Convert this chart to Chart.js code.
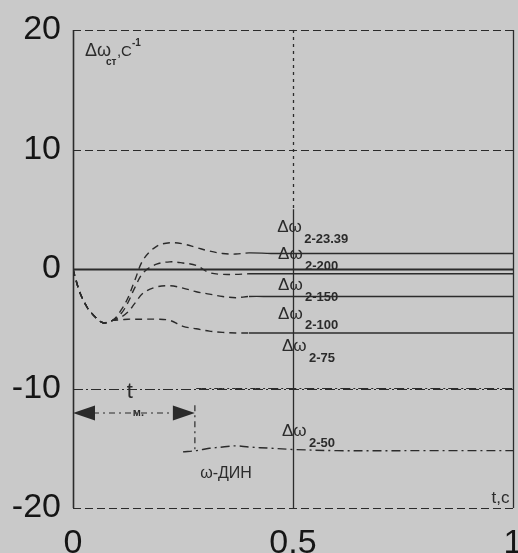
<!DOCTYPE html>
<html>
<head>
<meta charset="utf-8">
<script src="https://cdn.jsdelivr.net/npm/chart.js@4"></script>
<style>
  html, body { margin: 0; padding: 0; background: #c9c9c9; }
  #wrap { width: 518px; height: 553px; position: relative; }
</style>
</head>
<body>
<div id="wrap"><canvas id="myChart" width="518" height="553"></canvas></div>
<script>
// time, s
let times = [0, 0.005, 0.016, 0.032, 0.045, 0.068, 0.09, 0.11, 0.125, 0.14, 0.16, 0.19,
             0.22, 0.25, 0.28, 0.31, 0.34, 0.37, 0.40, 0.45, 0.5, 0.6, 0.8, 1.0];

// delta omega, 1/s
let w2_2339 = [0, -0.7, -2.0, -3.2, -3.8, -4.5, -4.3, -3.4, -2.4, -1.0, 0.8, 1.9,
               2.2, 2.1, 1.8, 1.5, 1.3, 1.25, 1.35, 1.3, 1.3, 1.3, 1.3, 1.3];
let w2_200 = [0, -0.7, -2.0, -3.2, -3.8, -4.5, -4.3, -3.7, -2.8, -1.6, -0.3, 0.4,
              0.6, 0.5, 0.3, -0.3, -0.45, -0.45, -0.4, -0.4, -0.4, -0.4, -0.4, -0.4];
let w2_150 = [0, -0.7, -2.0, -3.2, -3.8, -4.5, -4.3, -4.0, -3.6, -2.9, -2.0, -1.5,
              -1.4, -1.6, -1.9, -2.1, -2.3, -2.4, -2.3, -2.3, -2.3, -2.3, -2.3, -2.3];
let w2_100 = [0, -0.7, -2.0, -3.2, -3.8, -4.5, -4.3, -4.25, -4.2, -4.2, -4.2, -4.2,
              -4.3, -4.8, -5.0, -5.2, -5.3, -5.35, -5.35, -5.35, -5.35, -5.35, -5.35, -5.35];
let w2_75 = [null, null, null, null, null, null, null, null, null, null, null, null,
             null, null, -10, -10, -10, -10, -10, -10, -10, -10, -10, -10];
let w2_50 = [null, null, null, null, null, null, null, null, null, null, null, null,
             null, -15.3, -15.2, -15.0, -14.9, -14.8, -14.9, -15.0, -15.1, -15.2, -15.2, -15.2];

let seriesNames = ['2-23.39', '2-200', '2-150', '2-100', '2-75', '2-50'];
let seriesValues = [w2_2339, w2_200, w2_150, w2_100, w2_75, w2_50];

let xTicks = [0, 0.5, 1];
let yTicks = [-20, -10, 0, 10, 20];

// label anchors (t, value) for the curve names
let labelT = [0.464, 0.466, 0.466, 0.466, 0.475, 0.475];
let labelV = [3.5, 1.25, -1.4, -3.75, -6.45, -13.6];

// t_m marker
let tm = 0.277;

const FONT = '"Liberation Sans", Arial, sans-serif';
const INK = '#2b2b2b';

let datasets = seriesValues.map((vals, k) => ({
    label: seriesNames[k],
    data: times.map((t, i) => ({ x: t, y: vals[i] })),
    borderColor: INK,
    borderWidth: k == 4 ? 1 : 1.4,
    pointRadius: 0,
    tension: 0.35,
    spanGaps: false,
    borderDash: k == 5 ? [9, 4, 2, 4] : (k == 4 ? [10, 3, 2, 3] : []),
    segment: {
        borderDash: ctx => {
            if (k >= 4) return undefined;
            return ctx.p0.parsed.x < 0.4 ? [7, 5] : undefined;
        }
    }
}));

/* grid, borders and all the annotation text */
const paperPlugin = {
    id: 'paper',
    beforeDatasetsDraw(chart) {
        const { ctx, chartArea: a, scales: { x, y } } = chart;
        ctx.save();
        ctx.strokeStyle = INK;
        // horizontal lines
        yTicks.forEach(v => {
            const py = Math.round(y.getPixelForValue(v)) + 0.5;
            ctx.beginPath();
            ctx.lineWidth = v == 0 ? 2.2 : 1.2;
            ctx.setLineDash(v == 0 ? [] : (v == -10 ? [10, 3, 2, 3] : [8, 4]));
            ctx.moveTo(a.left, py);
            ctx.lineTo(a.right, py);
            ctx.stroke();
        });
        // vertical lines
        xTicks.forEach(t => {
            const px = Math.round(x.getPixelForValue(t)) + 0.5;
            ctx.lineWidth = t == 0 ? 1.6 : 1.3;
            if (t == 0.5) {
                const mid = y.getPixelForValue(5);
                ctx.setLineDash([3, 4]);
                ctx.beginPath(); ctx.moveTo(px, a.top); ctx.lineTo(px, mid); ctx.stroke();
                ctx.setLineDash([]);
                ctx.beginPath(); ctx.moveTo(px, mid); ctx.lineTo(px, a.bottom); ctx.stroke();
            } else {
                ctx.setLineDash([]);
                ctx.beginPath(); ctx.moveTo(px, a.top); ctx.lineTo(px, a.bottom); ctx.stroke();
            }
        });
        ctx.restore();
    },
    afterDatasetsDraw(chart) {
        const { ctx, scales: { x, y } } = chart;
        ctx.save();
        ctx.fillStyle = INK;
        ctx.strokeStyle = INK;
        ctx.textBaseline = 'middle';
        ctx.textAlign = 'left';

        // y title  Δω_ст, с^-1
        let px = x.getPixelForValue(0.027), py = y.getPixelForValue(18.2);
        ctx.font = '18px ' + FONT;
        ctx.fillText('Δω', px, py);
        ctx.font = 'bold 10px ' + FONT;
        ctx.fillText('ст', px + 21, py + 11);
        ctx.font = '15px ' + FONT;
        ctx.fillText(',С', px + 32, py);
        ctx.font = 'bold 10px ' + FONT;
        ctx.fillText('-1', px + 47, py - 8);

        // curve names
        seriesNames.forEach((name, k) => {
            const lx = x.getPixelForValue(labelT[k]);
            const ly = y.getPixelForValue(labelV[k]);
            ctx.font = '17px ' + FONT;
            ctx.fillText('Δω', lx, ly);
            ctx.font = 'bold 13px ' + FONT;
            ctx.fillText(name, lx + 27, ly + 12);
        });

        // t_m arrow
        const ay = y.getPixelForValue(-12.05);
        const x0 = x.getPixelForValue(0), x1 = x.getPixelForValue(tm);
        ctx.lineWidth = 1.2;
        ctx.setLineDash([6, 4, 2, 4]);
        ctx.beginPath(); ctx.moveTo(x0 + 20, ay); ctx.lineTo(x1 - 20, ay); ctx.stroke();
        ctx.beginPath();
        ctx.moveTo(x1, y.getPixelForValue(-11.4));
        ctx.lineTo(x1, y.getPixelForValue(-15.4));
        ctx.stroke();
        ctx.setLineDash([]);
        ctx.beginPath();
        ctx.moveTo(x0, ay); ctx.lineTo(x0 + 22, ay - 7.5); ctx.lineTo(x0 + 22, ay + 7.5); ctx.closePath();
        ctx.fill();
        ctx.beginPath();
        ctx.moveTo(x1, ay); ctx.lineTo(x1 - 22, ay - 7.5); ctx.lineTo(x1 - 22, ay + 7.5); ctx.closePath();
        ctx.fill();

        ctx.font = '22px ' + FONT;
        ctx.fillText('t', x.getPixelForValue(0.122), y.getPixelForValue(-10.3));
        ctx.font = 'bold 11px ' + FONT;
        ctx.fillText('м.', x.getPixelForValue(0.136), y.getPixelForValue(-12.05));

        ctx.font = '16px ' + FONT;
        ctx.fillText('ω-ДИН', x.getPixelForValue(0.289), y.getPixelForValue(-17.15));
        ctx.font = '17px ' + FONT;
        ctx.fillText('t,c', x.getPixelForValue(0.951), y.getPixelForValue(-19.15));
        ctx.restore();
    }
};

let config = {
    type: 'line',
    data: { datasets: datasets },
    options: {
        responsive: false,
        animation: false,
        layout: { autoPadding: false, padding: { top: 30, right: 5, left: 0, bottom: 0 } },
        plugins: { legend: { display: false }, tooltip: { enabled: false } },
        scales: {
            x: {
                type: 'linear',
                min: 0, max: 1,
                afterFit: s => { s.height = 45; s.paddingLeft = 0; s.paddingRight = 0; },
                afterBuildTicks: s => { s.ticks = xTicks.map(v => ({ value: v })); },
                grid: { display: false, drawTicks: false },
                border: { display: false },
                ticks: {
                    padding: 15,
                    color: '#151515',
                    font: { family: FONT, size: 34 },
                    maxRotation: 0,
                    callback: v => String(v)
                }
            },
            y: {
                min: -20, max: 20,
                afterFit: s => { s.width = 73; s.paddingTop = 0; s.paddingBottom = 0; },
                afterBuildTicks: s => { s.ticks = yTicks.map(v => ({ value: v })); },
                grid: { display: false, drawTicks: false },
                border: { display: false },
                ticks: {
                    padding: 12,
                    color: '#151515',
                    font: { family: FONT, size: 34 },
                    callback: v => String(v)
                }
            }
        }
    },
    plugins: [paperPlugin]
};

var myChart = new Chart(document.getElementById('myChart').getContext('2d'), config);
</script>
</body>
</html>
